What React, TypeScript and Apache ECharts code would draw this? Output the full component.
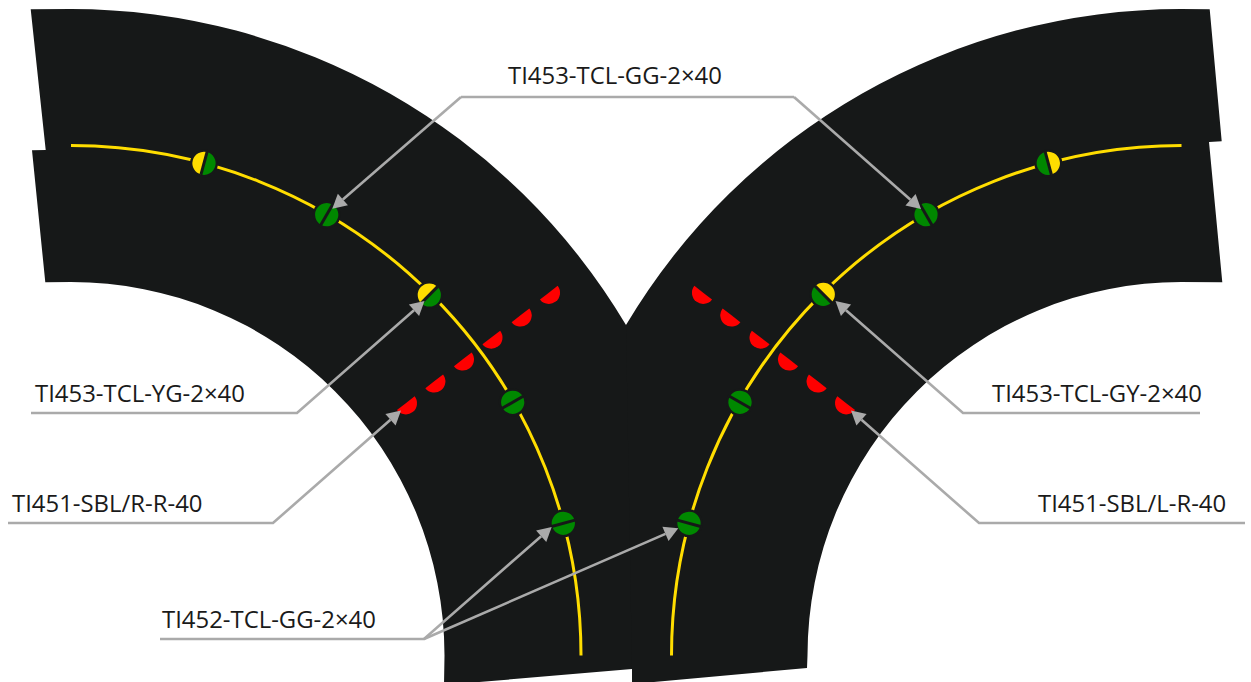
import React, { useEffect, useRef } from "react";
import * as echarts from "echarts";

const W = 1251;
const H = 682;
const DARK = "#161818";
const YELLOW = "#FFDD00";
const GREEN = "#008800";
const RED = "#FF0000";
const GRAY = "#AAAAAA";

const leftCentre = [71, 655.5];
const rightCentre = [1181.5, 655.5];
const trackRadius = 510;
const outerRadius = 646.5;
const innerRadius = 373.5;
const apex = [626, 325];

// marker: x, y, colour on the start side, colour on the far side
const leftMarkers: [number, number, string, string][] = [
  [204, 163.3, YELLOW, GREEN],
  [326.7, 214.7, GREEN, GREEN],
  [429.3, 295, YELLOW, GREEN],
  [512.7, 402.3, GREEN, GREEN],
  [563.3, 523.3, GREEN, GREEN],
];
const rightMarkers: [number, number, string, string][] = [
  [1048.3, 163.3, YELLOW, GREEN],
  [926, 214.7, GREEN, GREEN],
  [823.3, 294.3, YELLOW, GREEN],
  [740, 402.3, GREEN, GREEN],
  [689, 523.3, GREEN, GREEN],
];
const leftReds = [
  [548.8, 292.7],
  [520.5, 315.3],
  [491.3, 337.5],
  [462.8, 359.3],
  [434.2, 381.3],
  [405.8, 403.2],
];
const rightReds = [
  [703.2, 292.7],
  [731.5, 315.3],
  [760.7, 337.5],
  [789.2, 359.3],
  [817.8, 381.3],
  [846.2, 403.2],
];
const labels: [string, number, number][] = [
  ["TI453-TCL-GG-2×40", 508, 74],
  ["TI453-TCL-YG-2×40", 35, 392],
  ["TI451-SBL/R-R-40", 12, 502],
  ["TI452-TCL-GG-2×40", 162, 618],
  ["TI453-TCL-GY-2×40", 992, 392],
  ["TI451-SBL/L-R-40", 1038, 502],
];
const leaders: number[][][] = [
  [[461, 97], [332.3, 208.7]],
  [[461, 97], [794, 97]],
  [[794, 97], [921, 209]],
  [[31, 413], [297, 413], [424.5, 301]],
  [[8, 523], [273, 523], [401, 410.5]],
  [[160, 639], [424, 639], [551.7, 527]],
  [[424, 639], [678.3, 528.3]],
  [[1200, 413], [963, 413], [835.5, 301]],
  [[1245, 523], [979, 523], [851, 410.5]],
];
const arrowLeaders = [0, 2, 3, 4, 5, 6, 7, 8];

const rad = (d: number) => (d * Math.PI) / 180;

function single(renderItem: any) {
  return { type: "custom", silent: true, coordinateSystem: "cartesian2d", data: [[0, 0]], renderItem };
}

function scaleOf(api: any) {
  const o = api.coord([0, 0]);
  const p = api.coord([1, 0]);
  return { ox: o[0], oy: o[1], s: p[0] - o[0] };
}

function blockPaths(api: any) {
  const c = (x: number, y: number) => api.coord([x, y]).join(" ");
  const { s } = scaleOf(api);
  const ro = outerRadius * s;
  const ri = innerRadius * s;
  const left =
    `M${c(30.7, 9.3)} L${c(71, 9)} A${ro} ${ro} 0 0 1 ${c(apex[0], apex[1])} L${c(650, 360)} L${c(650, 660)} L${c(632, 669)} L${c(444, 685)} ` +
    `L${c(444.5, 655.5)} A${ri} ${ri} 0 0 0 ${c(71, 282)} L${c(45.3, 282.3)} L${c(32, 150.3)} L${c(45.7, 150)} Z`;
  const right =
    `M${c(1209.7, 9.3)} L${c(1181, 9)} A${ro} ${ro} 0 0 0 ${c(apex[0], apex[1])} L${c(632, 669)} L${c(632, 684)} L${c(807, 668)} ` +
    `L${c(807.5, 655.5)} A${ri} ${ri} 0 0 1 ${c(1181, 282)} L${c(1222.3, 282.3)} L${c(1209, 142)} L${c(1221.7, 141.3)} Z`;
  return [left, right];
}

function renderBlocks(_: any, api: any) {
  return {
    type: "group",
    children: blockPaths(api).map((d) => ({
      type: "path",
      shape: { pathData: d },
      style: { fill: DARK, stroke: "none" },
    })),
  };
}

function renderTracks(_: any, api: any) {
  const { s } = scaleOf(api);
  const l = api.coord(leftCentre);
  const r = api.coord(rightCentre);
  const style = { stroke: YELLOW, lineWidth: 3, fill: "none" };
  return {
    type: "group",
    children: [
      { type: "arc", shape: { cx: l[0], cy: l[1], r: trackRadius * s, startAngle: rad(-90), endAngle: 0, clockwise: true }, style },
      { type: "arc", shape: { cx: r[0], cy: r[1], r: trackRadius * s, startAngle: rad(-90), endAngle: rad(-180), clockwise: false }, style },
    ],
  };
}

function markerParts(m: [number, number, string, string], centre: number[], isLeft: boolean, api: any) {
  const { s } = scaleOf(api);
  const p = api.coord([m[0], m[1]]);
  const th = Math.atan2(m[1] - centre[1], m[0] - centre[0]);
  const R = 11.6 * s;
  const a0 = isLeft ? th - Math.PI : th;
  const a1 = isLeft ? th : th + Math.PI;
  const b0 = a1;
  const b1 = a0 + Math.PI * 2;
  const dx = Math.cos(th) * (R + 0.5);
  const dy = Math.sin(th) * (R + 0.5);
  return [
    { type: "circle", shape: { cx: p[0], cy: p[1], r: 14 * s }, style: { fill: DARK } },
    { type: "sector", shape: { cx: p[0], cy: p[1], r0: 0, r: R, startAngle: a0, endAngle: a1, clockwise: true }, style: { fill: m[2] } },
    { type: "sector", shape: { cx: p[0], cy: p[1], r0: 0, r: R, startAngle: b0, endAngle: b1, clockwise: true }, style: { fill: m[3] } },
    { type: "line", shape: { x1: p[0] - dx, y1: p[1] - dy, x2: p[0] + dx, y2: p[1] + dy }, style: { stroke: DARK, lineWidth: 3 * s } },
  ];
}

function renderMarkers(_: any, api: any) {
  return {
    type: "group",
    children: [
      ...leftMarkers.flatMap((m) => markerParts(m, leftCentre, true, api)),
      ...rightMarkers.flatMap((m) => markerParts(m, rightCentre, false, api)),
    ],
  };
}

function renderReds(_: any, api: any) {
  const { s } = scaleOf(api);
  const first = leftReds[0];
  const last = leftReds[leftReds.length - 1];
  const flat = Math.atan2(first[1] - last[1], first[0] - last[0]);
  const mk = (c: number[], start: number) => {
    const p = api.coord(c);
    return {
      type: "sector",
      shape: { cx: p[0], cy: p[1], r0: 0, r: 11.2 * s, startAngle: start, endAngle: start + Math.PI, clockwise: true },
      style: { fill: RED },
    };
  };
  return {
    type: "group",
    children: [...leftReds.map((c) => mk(c, flat)), ...rightReds.map((c) => mk(c, -flat))],
  };
}

function renderLeaders(_: any, api: any) {
  const children: any[] = [];
  const headLen = 14;
  const headHalf = 7.7;
  leaders.forEach((pts, i) => {
    const px = pts.map((q) => api.coord(q));
    const hasArrow = arrowLeaders.includes(i);
    const n = px.length;
    const tip = px[n - 1];
    const prev = px[n - 2];
    const len = Math.hypot(tip[0] - prev[0], tip[1] - prev[1]);
    const ux = (tip[0] - prev[0]) / len;
    const uy = (tip[1] - prev[1]) / len;
    const base = [tip[0] - ux * headLen, tip[1] - uy * headLen];
    const line = hasArrow ? [...px.slice(0, n - 1), base] : px;
    children.push({ type: "polyline", shape: { points: line }, style: { stroke: GRAY, lineWidth: 2.6, fill: "none" } });
    if (hasArrow) {
      children.push({
        type: "polygon",
        shape: {
          points: [
            tip,
            [base[0] - uy * headHalf, base[1] + ux * headHalf],
            [base[0] + uy * headHalf, base[1] - ux * headHalf],
          ],
        },
        style: { fill: GRAY },
      });
    }
  });
  return { type: "group", children };
}

function renderLabels(_: any, api: any) {
  return {
    type: "group",
    children: labels.map(([t, x, y]) => {
      const p = api.coord([x, y]);
      return {
        type: "text",
        x: p[0],
        y: p[1],
        style: { text: t, fill: "#1a1a1a", font: '23.9px "Open Sans"', textAlign: "left", textVerticalAlign: "middle" },
      };
    }),
  };
}

export default function App() {
  const ref = useRef<HTMLDivElement>(null);
  useEffect(() => {
    document.body.style.margin = "0";
    const chart = echarts.init(ref.current!, null, { renderer: "svg" });
    chart.setOption({
      animation: false,
      backgroundColor: "#ffffff",
      grid: { left: 0, right: 0, top: 0, bottom: 0 },
      xAxis: { type: "value", min: 0, max: W, show: false },
      yAxis: { type: "value", min: 0, max: H, inverse: true, show: false },
      series: [
        single(renderBlocks),
        single(renderTracks),
        single(renderMarkers),
        single(renderReds),
        single(renderLeaders),
        single(renderLabels),
      ],
    });
    return () => chart.dispose();
  }, []);
  return <div ref={ref} style={{ width: W, height: H }} />;
}
